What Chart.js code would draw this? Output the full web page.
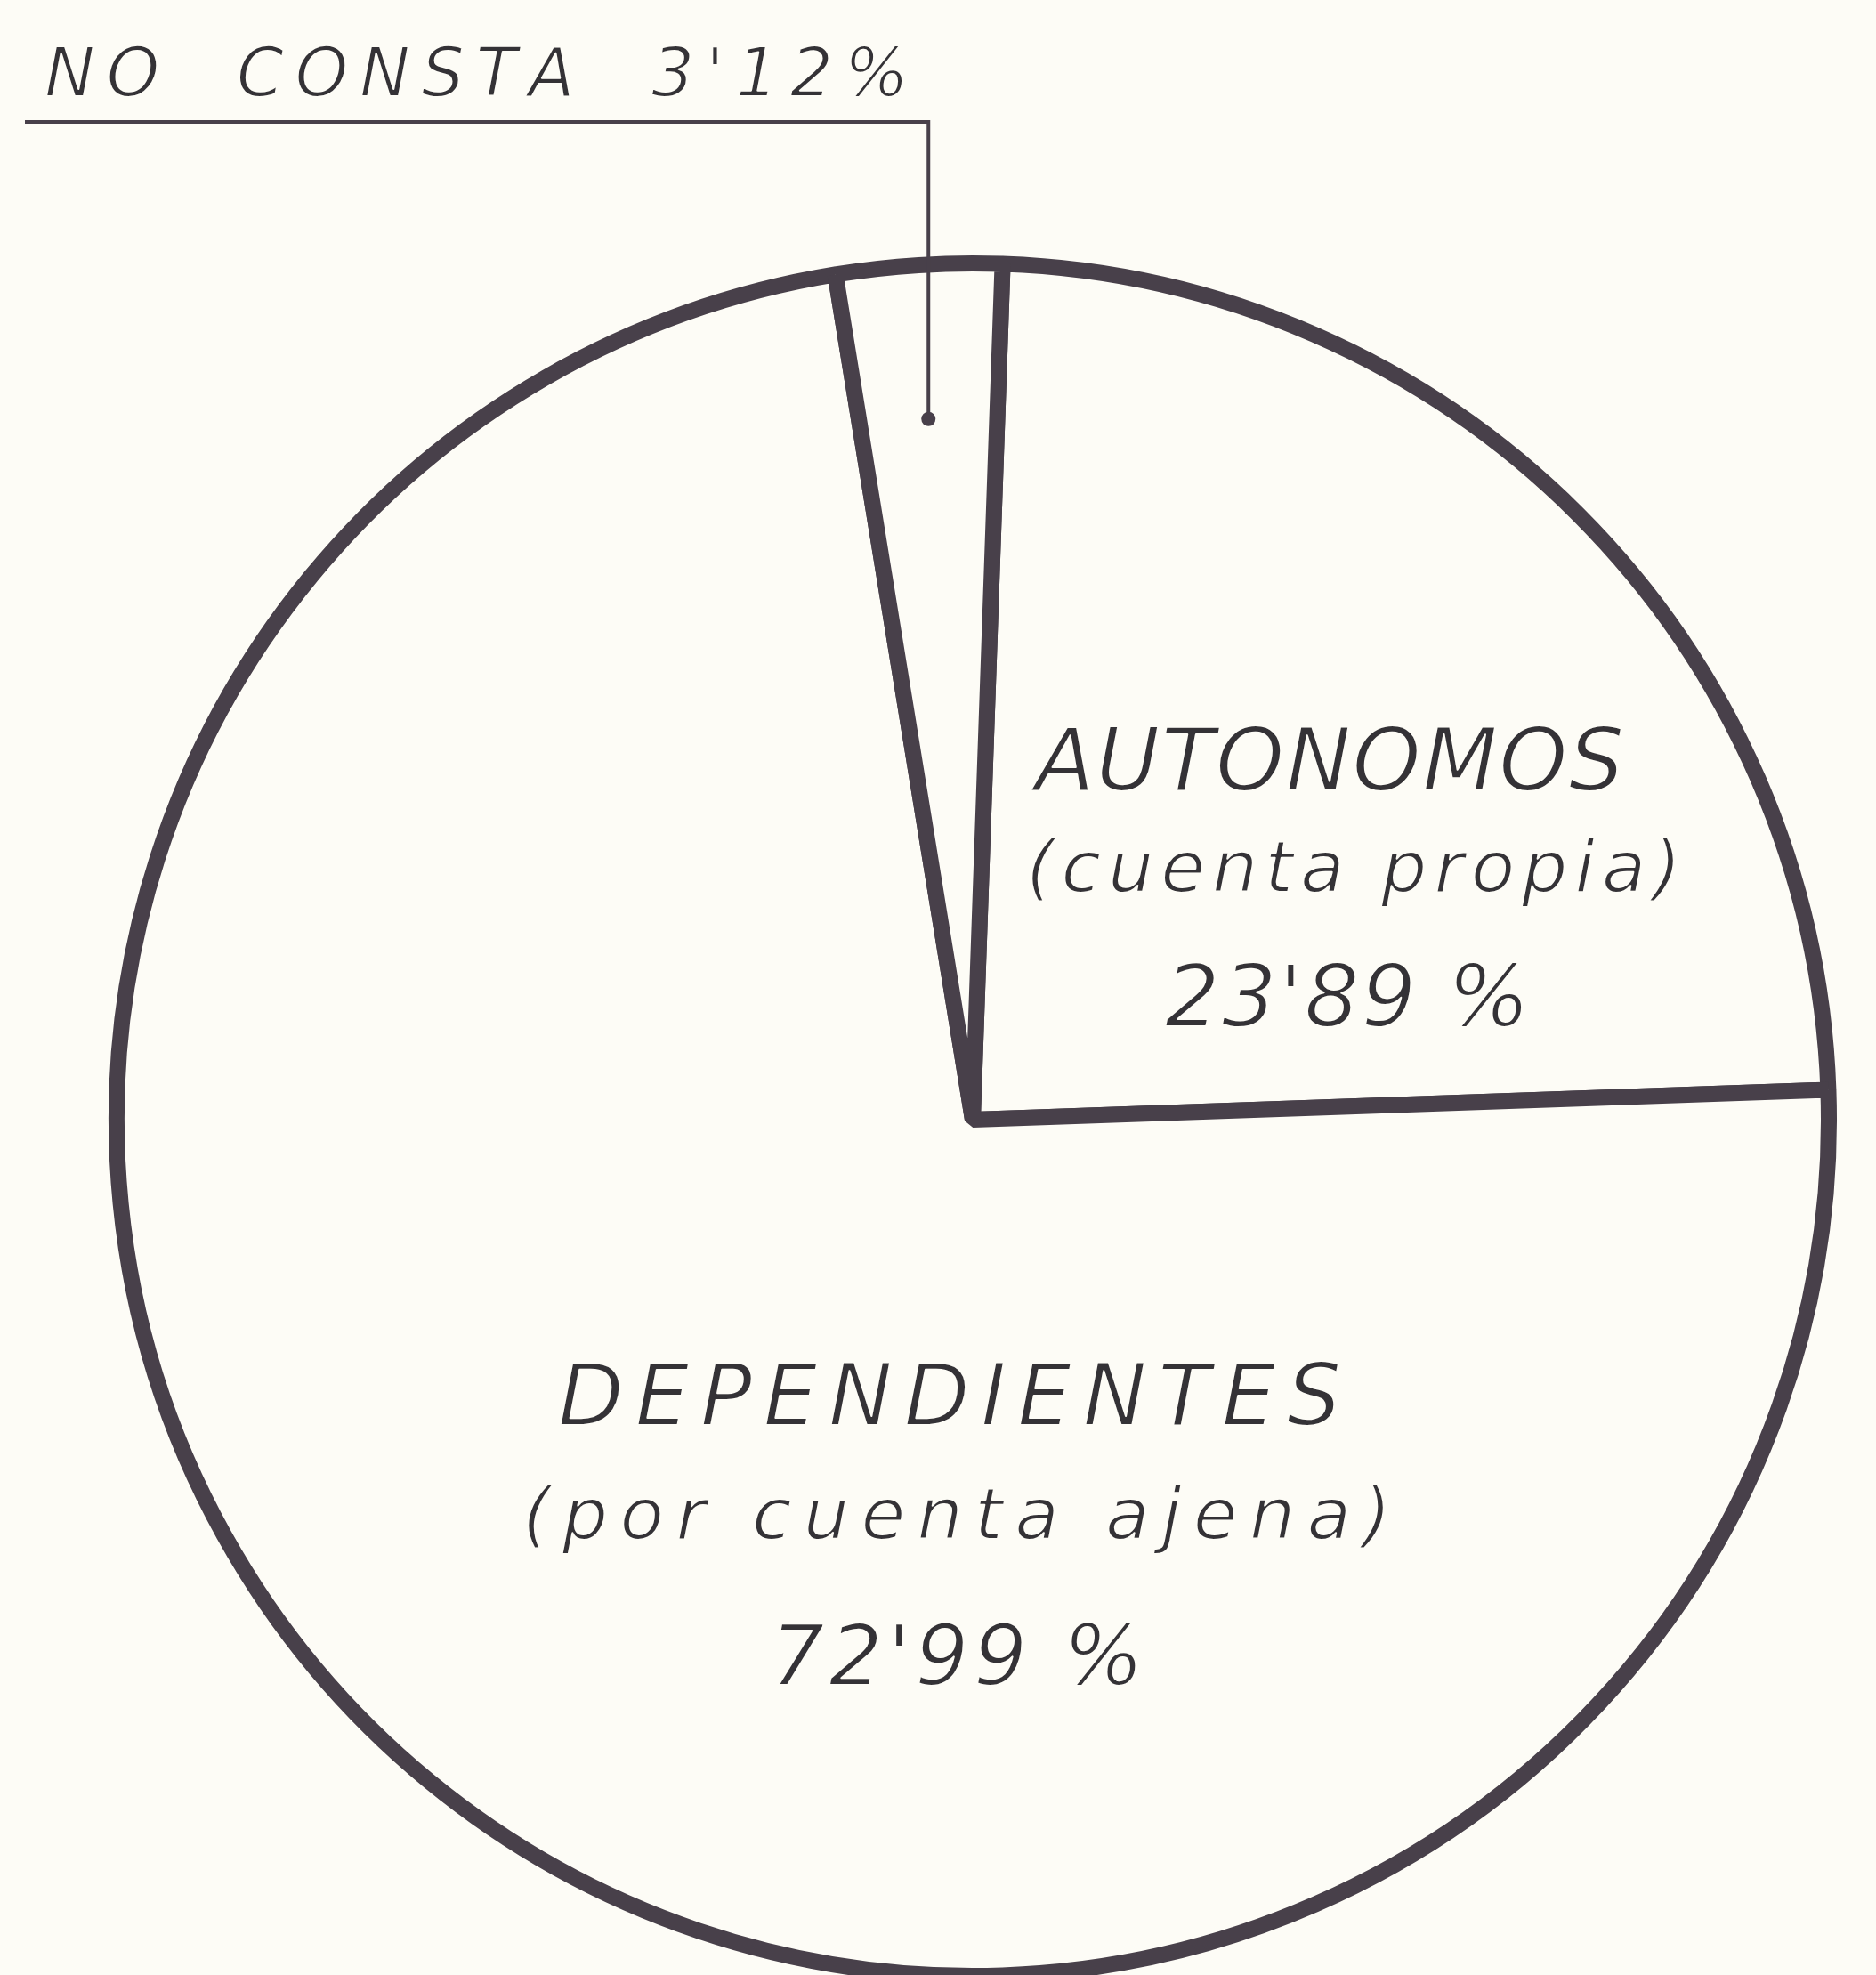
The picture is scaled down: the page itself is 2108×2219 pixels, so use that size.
<!DOCTYPE html>
<html>
<head>
<meta charset="utf-8">
<script src="https://cdn.jsdelivr.net/npm/chart.js@4.4.0/dist/chart.umd.min.js"></script>
<style>
  html, body { margin: 0; padding: 0; background: #fdfcf6; overflow: hidden; }
  canvas { display: block; }
</style>
</head>
<body>
<canvas id="chart" width="2108" height="2219"></canvas>
<script>
// data
const categories = ['AUTONOMOS', 'DEPENDIENTES', 'NO CONSTA'];
const subtitles = ['(cuenta propia)', '(por cuenta ajena)', ''];
const values = [23.89, 72.99, 3.12];

const ink = '#48404a';
const paper = '#fdfcf6';
const textInk = '#343236';
const face = '"DejaVu Sans"';

// text boxes: [left, right, baseline, size]
const blocks = [
  { name: [1163, 1825, 888, 98], sub: [1153, 1889, 1002, 81], pct: [1309, 1719, 1153, 97] },
  { name: [627, 1507, 1601, 96], sub: [587, 1563, 1729, 81], pct: [866, 1285, 1893, 95] }
];
const leader = { top: 137, left: 28, text: [50, 1021, 108, 76] };

const pct = v => v.toFixed(2).replace('.', "'") + ' %';

// spread a string over a width, char by char; the paper stroke thins the glyphs
function spread(ctx, text, left, right, baseline, size) {
  ctx.font = 'italic ' + size + 'px ' + face;
  const chars = [...text];
  const widths = chars.map(c => ctx.measureText(c).width);
  const total = widths.reduce((a, b) => a + b, 0);
  const gap = chars.length > 1 ? (right - left - total) / (chars.length - 1) : 0;
  let x = left;
  chars.forEach((c, i) => {
    ctx.fillText(c, x, baseline);
    ctx.strokeText(c, x, baseline);
    x += widths[i] + gap;
  });
}

const annotate = {
  id: 'annotate',
  afterDatasetsDraw(chart) {
    const ctx = chart.ctx;
    const arcs = chart.getDatasetMeta(0).data;
    ctx.save();
    ctx.textBaseline = 'alphabetic';
    ctx.textAlign = 'left';

    // leader for the thin slice
    const a = arcs[2];
    const mid = (a.startAngle + a.endAngle) / 2;
    const r = a.outerRadius * 0.82;
    const px = a.x + Math.cos(mid) * r;
    const py = a.y + Math.sin(mid) * r;
    ctx.strokeStyle = ink;
    ctx.lineWidth = 4;
    ctx.beginPath();
    ctx.moveTo(px, py);
    ctx.lineTo(px, leader.top);
    ctx.lineTo(leader.left, leader.top);
    ctx.stroke();
    ctx.fillStyle = ink;
    ctx.beginPath();
    ctx.arc(px, py, 8, 0, Math.PI * 2);
    ctx.fill();

    ctx.fillStyle = textInk;
    ctx.strokeStyle = paper;
    ctx.lineWidth = 2;
    ctx.lineJoin = 'round';
    [0, 1].forEach(i => {
      const b = blocks[i];
      spread(ctx, categories[i], ...b.name);
      spread(ctx, subtitles[i], ...b.sub);
      spread(ctx, pct(values[i]), ...b.pct);
    });
    spread(ctx, categories[2].replace(' ', '  ') + '  ' + pct(values[2]).replace(' ', ''), ...leader.text);
    ctx.restore();
  }
};

new Chart(document.getElementById('chart'), {
  type: 'pie',
  data: {
    labels: categories,
    datasets: [{
      data: values,
      backgroundColor: paper,
      borderColor: ink,
      borderWidth: 18
    }]
  },
  options: {
    responsive: false,
    animation: false,
    events: [],
    rotation: 2,
    radius: 962,
    layout: { padding: { left: 78, top: 297, right: 0, bottom: 0 } },
    plugins: {
      legend: { display: false },
      tooltip: { enabled: false }
    }
  },
  plugins: [annotate]
});
</script>
</body>
</html>
